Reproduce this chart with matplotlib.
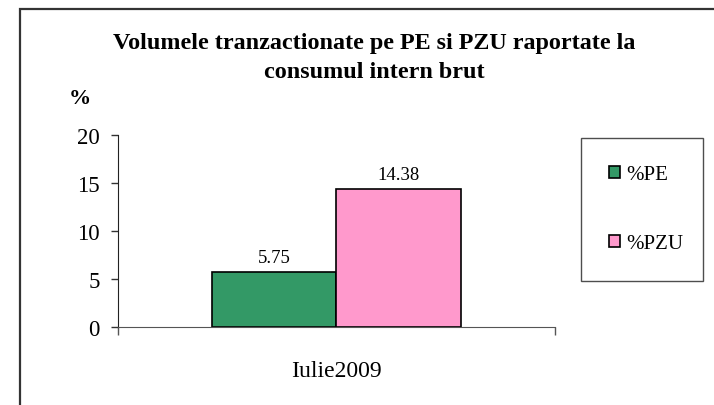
import matplotlib
matplotlib.use("Agg")
import matplotlib.pyplot as plt
from matplotlib.patches import Rectangle
from matplotlib.transforms import blended_transform_factory

plt.rcParams['font.family'] = ['Liberation Serif', 'DejaVu Serif']

title_lines = ['Volumele tranzactionate pe PE si PZU raportate la',
               'consumul intern brut']
categories = ['Iulie2009']
series_names = ['%PE', '%PZU']
pe_values = [5.75]
pzu_values = [14.38]
colors = ['#339966', '#FF99CC']
yticks = [0, 5, 10, 15, 20]

W, H = 714, 406
fig = plt.figure(figsize=(W / 100, H / 100), dpi=100)


def fx(px):
    return px / W


def fy(py):
    # pixel row from top -> figure fraction
    return 1 - py / H


# outer chart frame, runs off the right and bottom edges
fig.patches.append(Rectangle((fx(19.5), -0.05), 1.0, fy(10) + 0.05,
                             transform=fig.transFigure, fill=False,
                             edgecolor='#333333', linewidth=1.6))

ax = fig.add_axes([fx(117.5), fy(328), fx(555 - 117.5), (328 - 136) / H])

w = 0.285
x = [0]
b1 = ax.bar([i - w / 2 for i in x], pe_values, width=w, color=colors[0],
            edgecolor='black', linewidth=1.2, label=series_names[0])
b2 = ax.bar([i + w / 2 for i in x], pzu_values, width=w, color=colors[1],
            edgecolor='black', linewidth=1.2, label=series_names[1])

for bars, vals in ((b1, pe_values), (b2, pzu_values)):
    for r, v in zip(bars, vals):
        ax.annotate(f'{v:.2f}', (r.get_x() + r.get_width() / 2, v),
                    xytext=(0, 7), textcoords='offset points',
                    ha='center', va='baseline', fontsize=13.5)

ax.set_xlim(-0.5, 0.5)
ax.set_ylim(0, 20)
ax.set_yticks(yticks)
ax.tick_params(axis='y', labelsize=16.5, length=5, pad=8, direction='out',
               width=1, color='#333333')
ax.set_xticks([-0.5, 0.5])
ax.set_xticklabels(['', ''])
ax.tick_params(axis='x', length=6, direction='out', width=1, color='#555555')
ax.spines['top'].set_visible(False)
ax.spines['right'].set_visible(False)
ax.spines['left'].set_color('#222222')
ax.spines['bottom'].set_color('#555555')

# category name sits well below the axis, x in data units
cat_trans = blended_transform_factory(ax.transData, fig.transFigure)
ax.text(0, fy(377.5), categories[0], transform=cat_trans,
        ha='center', va='baseline', fontsize=17)

fig.text(fx(374), fy(48.5), title_lines[0], ha='center', va='baseline',
         fontsize=17.4, fontweight='bold')
fig.text(fx(374), fy(78.5), title_lines[1], ha='center', va='baseline',
         fontsize=17.4, fontweight='bold')
fig.text(fx(80), fy(99), '%', ha='center', va='center',
         fontsize=16, fontweight='bold')

leg = fig.legend(handles=[b1, b2], labels=series_names,
                 loc='upper left',
                 bbox_to_anchor=(fx(581), fy(281), fx(122), (281 - 139) / H),
                 mode='expand', frameon=True, fancybox=False,
                 edgecolor='#222222', fontsize=15,
                 handlelength=0.55, handleheight=0.55,
                 labelspacing=2.4, borderpad=1.32, handletextpad=0.3,
                 borderaxespad=0)
leg.get_frame().set_linewidth(1)
for h in leg.legend_handles:
    h.set_linewidth(1.2)

fig.savefig('out.png', dpi=100)
